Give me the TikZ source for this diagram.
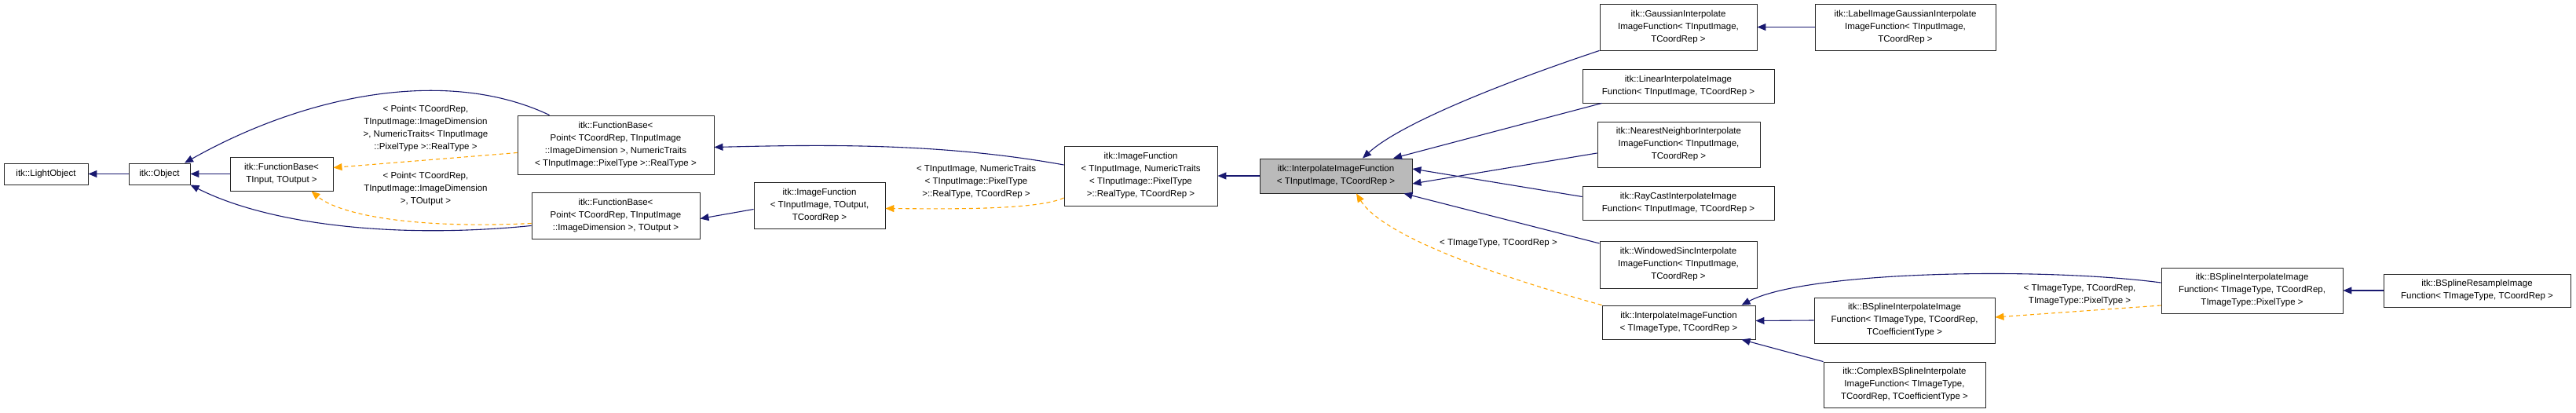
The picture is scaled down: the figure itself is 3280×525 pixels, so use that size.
\documentclass[tikz,border=0pt]{standalone}
\usepackage{fontspec}
\setmainfont{Liberation Sans}
\usetikzlibrary{arrows.meta}
\definecolor{navyline}{HTML}{191970}
\definecolor{orangeline}{HTML}{FFA500}
\tikzset{
  box/.style={draw=black!85, line width=0.9pt, fill=white, align=center, inner sep=2pt, font=\fontsize{11.5}{16}\selectfont},
  inh/.style={draw=navyline, line width=1.1pt, -{Triangle[width=9pt,length=11pt]}},
  tpl/.style={draw=orangeline, line width=1.1pt, dashed, dash pattern=on 5pt off 4pt, -{Triangle[width=9pt,length=11pt]}},
  lbl/.style={align=center, font=\fontsize{11.5}{16}\selectfont, inner sep=0pt}
}
\begin{document}
\begin{tikzpicture}[x=1pt,y=-1pt]
\useasboundingbox[fill=white] (0,0) rectangle (3280,525);
\node[box, minimum width=107, minimum height=27] (lo) at (58.5,221.5) {itk::LightObject};
\node[box, minimum width=78, minimum height=27] (obj) at (203,221.5) {itk::Object};
\node[box, minimum width=131, minimum height=43] (fbT) at (358.5,221.5) {itk::FunctionBase\textless\\ TInput, TOutput \textgreater};
\node[box, minimum width=250, minimum height=75] (fbN) at (784,184.5) {itk::FunctionBase\textless\\ Point\textless{} TCoordRep, TInputImage\\::ImageDimension \textgreater, NumericTraits\\\textless{} TInputImage::PixelType \textgreater::RealType \textgreater};
\node[box, minimum width=214, minimum height=59] (fbO) at (784,274.5) {itk::FunctionBase\textless\\ Point\textless{} TCoordRep, TInputImage\\::ImageDimension \textgreater, TOutput \textgreater};
\node[box, minimum width=167, minimum height=59] (ifO) at (1043.5,261.5) {itk::ImageFunction\\\textless{} TInputImage, TOutput,\\ TCoordRep \textgreater};
\node[box, minimum width=195, minimum height=76] (ifN) at (1452.5,224) {itk::ImageFunction\\\textless{} TInputImage, NumericTraits\\\textless{} TInputImage::PixelType\\ \textgreater::RealType, TCoordRep \textgreater};
\node[box, fill=black!27, minimum width=194, minimum height=44] (cen) at (1701,224) {itk::InterpolateImageFunction\\\textless{} TInputImage, TCoordRep \textgreater};
\node[box, minimum width=200, minimum height=59] (gau) at (2137,34.5) {itk::GaussianInterpolate\\ImageFunction\textless{} TInputImage,\\ TCoordRep \textgreater};
\node[box, minimum width=230, minimum height=59] (lab) at (2426,34.5) {itk::LabelImageGaussianInterpolate\\ImageFunction\textless{} TInputImage,\\ TCoordRep \textgreater};
\node[box, minimum width=244, minimum height=43] (lin) at (2137,109.5) {itk::LinearInterpolateImage\\Function\textless{} TInputImage, TCoordRep \textgreater};
\node[box, minimum width=207, minimum height=58] (nea) at (2137.5,184) {itk::NearestNeighborInterpolate\\ImageFunction\textless{} TInputImage,\\ TCoordRep \textgreater};
\node[box, minimum width=244, minimum height=43] (ray) at (2137,258.5) {itk::RayCastInterpolateImage\\Function\textless{} TInputImage, TCoordRep \textgreater};
\node[box, minimum width=200, minimum height=60] (win) at (2137,337) {itk::WindowedSincInterpolate\\ImageFunction\textless{} TInputImage,\\ TCoordRep \textgreater};
\node[box, minimum width=195, minimum height=43] (itp) at (2137.5,410.5) {itk::InterpolateImageFunction\\\textless{} TImageType, TCoordRep \textgreater};
\node[box, minimum width=230, minimum height=58] (bsc) at (2425,408) {itk::BSplineInterpolateImage\\Function\textless{} TImageType, TCoordRep,\\ TCoefficientType \textgreater};
\node[box, minimum width=206, minimum height=58] (cpx) at (2425,490) {itk::ComplexBSplineInterpolate\\ImageFunction\textless{} TImageType,\\ TCoordRep, TCoefficientType \textgreater};
\node[box, minimum width=231, minimum height=58] (bsp) at (2867.5,370) {itk::BSplineInterpolateImage\\Function\textless{} TImageType, TCoordRep,\\ TImageType::PixelType \textgreater};
\node[box, minimum width=238, minimum height=42] (res) at (3154,370) {itk::BSplineResampleImage\\Function\textless{} TImageType, TCoordRep \textgreater};

\draw[inh] (obj.west) -- (lo.east);
\draw[inh] (fbT.west) -- (obj.east);
\draw[inh] ([xshift=41pt]fbN.north west) .. controls (570,85) and (390,120) .. ([xshift=32pt]obj.north);
\draw[inh] ([yshift=17pt]fbO.south west) .. controls (500,305) and (340,285) .. (obj.south east);
\draw[tpl] ([yshift=-10pt]fbN.west) -- ([yshift=8pt]fbT.east);
\node[lbl] (l1) at (542,164) {\textless{} Point\textless{} TCoordRep,\\TInputImage::ImageDimension\\\textgreater, NumericTraits\textless{} TInputImage\\::PixelType \textgreater::RealType \textgreater};
\draw[tpl] ([yshift=-10pt]fbO.west) .. controls (520,292) and (430,272) .. ([xshift=38pt]fbT.south);
\node[lbl] (l2) at (542,241) {\textless{} Point\textless{} TCoordRep,\\TInputImage::ImageDimension\\\textgreater, TOutput \textgreater};
\draw[inh] ([yshift=14pt]ifN.west) .. controls (1200,182) and (1050,184) .. ([yshift=-3pt]fbN.east);
\draw[inh] ([yshift=-5pt]ifO.west) -- ([yshift=-4pt]fbO.east);
\draw[tpl] ([yshift=-28pt]ifN.west) .. controls (1320,268) and (1200,266) .. ([yshift=-4pt]ifO.east);
\node[lbl] (l3) at (1243,232) {\textless{} TInputImage, NumericTraits\\\textless{} TInputImage::PixelType\\\textgreater::RealType, TCoordRep \textgreater};
\draw[inh] (cen.west) -- (ifN.east);
\draw[inh] (gau.south west) .. controls (1900,110) and (1780,160) .. ([xshift=34pt]cen.north);
\draw[inh] ([xshift=25pt]lin.south west) -- ([xshift=73pt]cen.north);
\draw[inh] ([yshift=-11pt]nea.west) -- ([yshift=-10pt]cen.east);
\draw[inh] ([yshift=8pt]ray.west) -- ([yshift=9pt]cen.east);
\draw[inh] ([yshift=27pt]win.west) -- ([xshift=-11pt]cen.south east);
\draw[tpl] (itp.north west) .. controls (1900,350) and (1760,300) .. ([xshift=26pt]cen.south);
\node[lbl] (l4) at (1908,310) {\textless{} TImageType, TCoordRep \textgreater};
\draw[inh] (lab.west) -- (gau.east);
\draw[inh] ([yshift=10pt]bsp.west) .. controls (2600,340) and (2300,345) .. ([xshift=80pt]itp.north);
\draw[inh] (bsc.west) -- ([yshift=2pt]itp.east);
\draw[inh] (cpx.north west) -- ([xshift=80pt]itp.south);
\draw[tpl] ([yshift=-19pt]bsp.west) -- ([yshift=4pt]bsc.east);
\node[lbl] (l5) at (2648,376) {\textless{} TImageType, TCoordRep,\\TImageType::PixelType \textgreater};
\draw[inh] (res.west) -- (bsp.east);
\end{tikzpicture}
\end{document}
